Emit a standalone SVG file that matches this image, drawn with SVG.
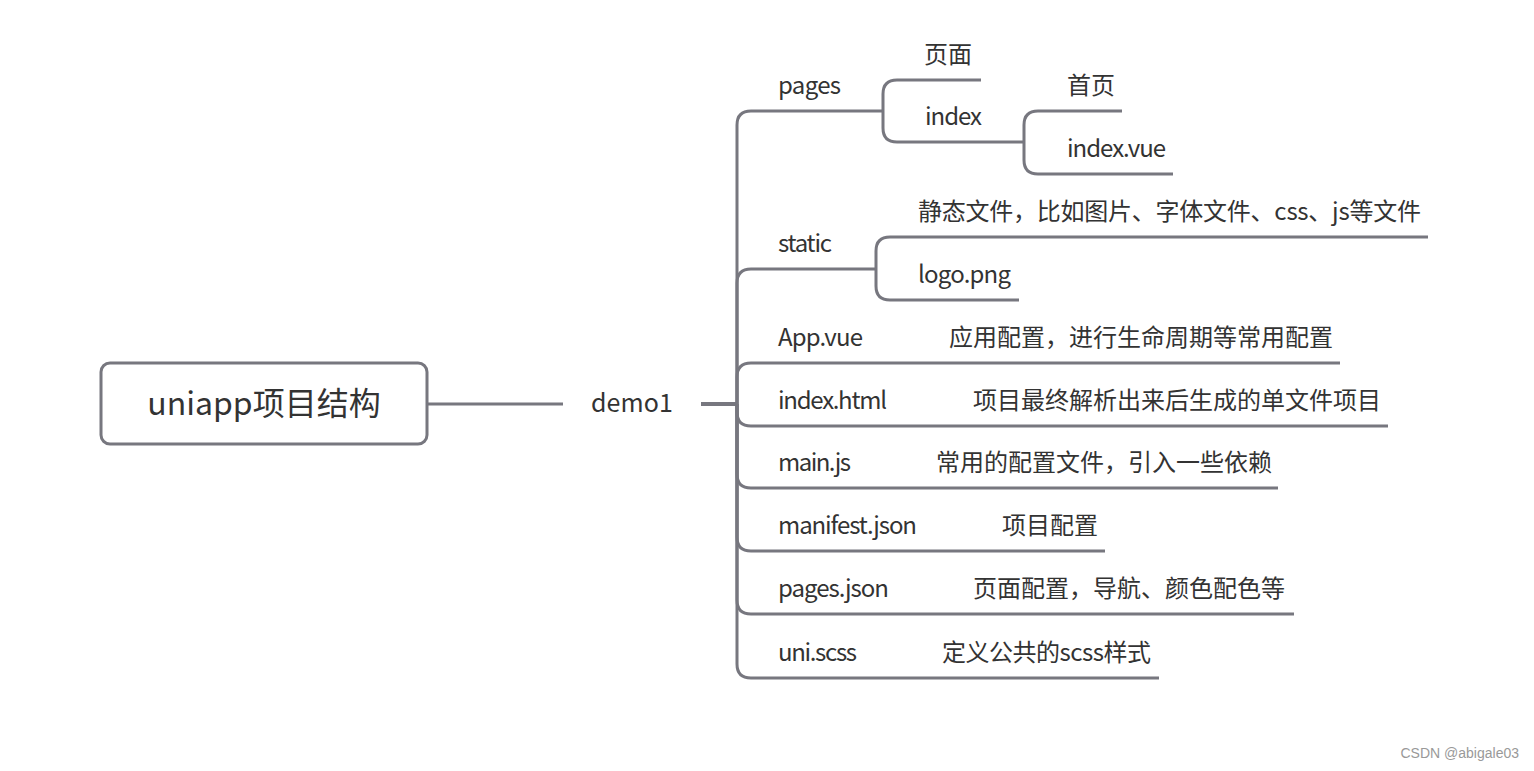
<svg xmlns="http://www.w3.org/2000/svg" width="1534" height="771" viewBox="0 0 1534 771">
<style>
.ln{fill:none;stroke:#77777f;stroke-width:3;stroke-linecap:butt}
.t{font-family:"Noto Sans CJK SC","Noto Sans",sans-serif;font-size:24px;fill:#333}
.root{font-family:"Noto Sans CJK SC","Noto Sans",sans-serif;font-size:32px;fill:#333}
.wm{font-family:"Liberation Sans",sans-serif;font-size:14px;fill:#999}
</style>
<rect width="1534" height="771" fill="#fff"/>
<g id="connectors">
<path class="ln" d="M427,404 H563"/>
<path class="ln" style="stroke-width:4" d="M701,404 H737"/>
<path class="ln" d="M737,404 V125 Q737,111 751,111 H883"/>
<path class="ln" d="M737,404 V283 Q737,269 751,269 H876"/>
<path class="ln" d="M737,404 V377 Q737,363 751,363 H1340"/>
<path class="ln" d="M737,404 V412 Q737,426 751,426 H1388"/>
<path class="ln" d="M737,404 V474 Q737,488 751,488 H1278"/>
<path class="ln" d="M737,404 V537 Q737,551 751,551 H1105"/>
<path class="ln" d="M737,404 V600 Q737,614 751,614 H1294"/>
<path class="ln" d="M737,404 V664 Q737,678 751,678 H1159"/>
<path class="ln" d="M883,111 V94 Q883,80 897,80 H981"/>
<path class="ln" d="M883,111 V128 Q883,142 897,142 H1024"/>
<path class="ln" d="M1024,142 V125 Q1024,111 1038,111 H1122"/>
<path class="ln" d="M1024,142 V160 Q1024,174 1038,174 H1173"/>
<path class="ln" d="M876,269 V251 Q876,237 890,237 H1428"/>
<path class="ln" d="M876,269 V286 Q876,300 890,300 H1019"/>
</g>
<g id="root">
<rect x="101" y="363" width="326" height="81" rx="9" fill="#fff" stroke="#77777f" stroke-width="3"/>
<text class="root" x="264" y="415" text-anchor="middle">uniapp项目结构</text>
</g>
<g id="demo1"><text class="t" x="591" y="412" style="font-size:25px" textLength="82">demo1</text></g>
<g id="pages"><text class="t" x="778" y="94" textLength="63">pages</text></g>
<g id="pages-desc"><text class="t" x="924" y="63">页面</text></g>
<g id="index"><text class="t" x="925" y="125" textLength="57">index</text></g>
<g id="index-desc"><text class="t" x="1067" y="94">首页</text></g>
<g id="index-vue"><text class="t" x="1067" y="157" textLength="99">index.vue</text></g>
<g id="static"><text class="t" x="778" y="252" textLength="54">static</text></g>
<g id="static-desc"><text class="t" x="918" y="220" textLength="503">静态文件，比如图片、字体文件、css、js等文件</text></g>
<g id="logo"><text class="t" x="918" y="283" textLength="93">logo.png</text></g>
<g id="app-vue"><text class="t" x="778" y="346" textLength="85">App.vue</text><text class="t" x="949" y="346">应用配置，进行生命周期等常用配置</text></g>
<g id="index-html"><text class="t" x="778" y="409" textLength="109">index.html</text><text class="t" x="973" y="409">项目最终解析出来后生成的单文件项目</text></g>
<g id="main-js"><text class="t" x="778" y="471" textLength="73">main.js</text><text class="t" x="936" y="471">常用的配置文件，引入一些依赖</text></g>
<g id="manifest"><text class="t" x="778" y="534" textLength="139">manifest.json</text><text class="t" x="1002" y="534">项目配置</text></g>
<g id="pages-json"><text class="t" x="778" y="597" textLength="111">pages.json</text><text class="t" x="973" y="597">页面配置，导航、颜色配色等</text></g>
<g id="uni-scss"><text class="t" x="778" y="661" textLength="79">uni.scss</text><text class="t" x="942" y="661" textLength="209">定义公共的scss样式</text></g>
<text class="wm" x="1519" y="758" text-anchor="end">CSDN @abigale03</text>
</svg>
